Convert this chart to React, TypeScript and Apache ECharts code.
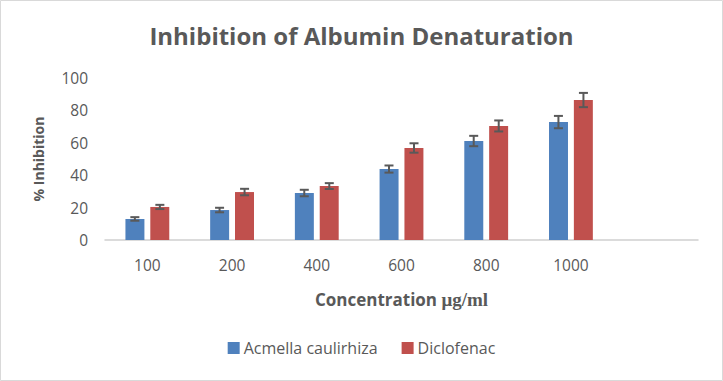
import React, { useEffect, useRef } from "react";
import * as echarts from "echarts";

const categories = ["100", "200", "400", "600", "800", "1000", ""];
const acmella = [13, 18.5, 29, 43.8, 61.1, 72.8];
const acmellaErr = [1.1, 1.4, 2, 2.2, 3.2, 3.8];
const diclofenac = [20.4, 29.6, 33.3, 56.8, 70.4, 86.4];
const diclofenacErr = [1.3, 2, 1.8, 2.9, 3.4, 4.4];
const yTicks = { min: 0, max: 100, interval: 20 };

const FONT = "Open Sans";
const TEXT = "#595959";
const OFFSET = 0.1476; // fraction of band width between category center and bar center

function errorSeries(values: number[], errs: number[], sign: number) {
  return {
    type: "custom",
    silent: true,
    z: 10,
    data: values.map((v, i) => [i, v, errs[i]]),
    renderItem: (params: any, api: any) => {
      const i = api.value(0);
      const v = api.value(1);
      const e = api.value(2);
      const band = api.size([1, 0])[0];
      const x = api.coord([i, v])[0] + sign * band * OFFSET;
      const yTop = api.coord([i, v + e])[1];
      const yBot = api.coord([i, v - e])[1];
      const half = 4.5;
      const style = { stroke: "#595959", lineWidth: 2 };
      return {
        type: "group",
        children: [
          { type: "line", shape: { x1: x, y1: yTop, x2: x, y2: yBot }, style },
          { type: "line", shape: { x1: x - half, y1: yTop, x2: x + half, y2: yTop }, style },
          { type: "line", shape: { x1: x - half, y1: yBot, x2: x + half, y2: yBot }, style },
        ],
      };
    },
  };
}

export default function App() {
  const ref = useRef<HTMLDivElement>(null);
  useEffect(() => {
    document.body.style.margin = "0";
    const chart = echarts.init(ref.current!, null, { renderer: "svg" });
    chart.setOption({
      animation: false,
      backgroundColor: "#ffffff",
      textStyle: { fontFamily: FONT },
      title: {
        text: "Inhibition of Albumin Denaturation",
        left: "center",
        top: 18,
        textStyle: { fontFamily: FONT, fontSize: 24, fontWeight: "bold", color: TEXT },
      },
      graphic: [
        {
          type: "rect",
          shape: { x: 0.5, y: 0.5, width: 722, height: 380 },
          style: { fill: "none", stroke: "#d9d9d9", lineWidth: 1 },
          silent: true,
        },
      ],
      legend: {
        data: ["Acmella caulirhiza", "Diclofenac"],
        bottom: 20,
        left: "center",
        itemWidth: 12,
        itemHeight: 12,
        itemGap: 24,
        icon: "rect",
        textStyle: { fontFamily: FONT, fontSize: 16, color: TEXT, padding: [0, 0, 0, -1] },
      },
      grid: { left: 105, right: 25, top: 78, bottom: 141, containLabel: false },
      xAxis: {
        type: "category",
        data: categories,
        axisTick: { show: false },
        axisLine: { lineStyle: { color: "#d0d0d0", width: 1.5 } },
        axisLabel: { fontFamily: FONT, fontSize: 15.5, color: TEXT, margin: 17 },
        name: "{a|Concentration }{b|μg/ml}",
        nameLocation: "middle",
        nameGap: 50,
        nameTextStyle: {
          rich: {
            a: { fontFamily: FONT, fontSize: 17, fontWeight: "bold", color: TEXT },
            b: { fontFamily: "Liberation Serif", fontSize: 19, fontWeight: "bold", color: TEXT },
          },
        },
      },
      yAxis: {
        type: "value",
        min: yTicks.min,
        max: yTicks.max,
        interval: yTicks.interval,
        splitLine: { show: false },
        axisLine: { show: false },
        axisTick: { show: false },
        axisLabel: { fontFamily: FONT, fontSize: 15.5, color: TEXT, margin: 17 },
        name: "% Inhibition",
        nameLocation: "middle",
        nameGap: 60,
        nameRotate: 90,
        nameTextStyle: { fontFamily: FONT, fontSize: 14, fontWeight: "bold", color: TEXT },
      },
      series: [
        {
          name: "Acmella caulirhiza",
          type: "bar",
          data: acmella,
          barWidth: "22.4%",
          barGap: "31%",
          itemStyle: { color: "#4F81BD" },
        },
        {
          name: "Diclofenac",
          type: "bar",
          data: diclofenac,
          barWidth: "22.4%",
          barGap: "31%",
          itemStyle: { color: "#C0504D" },
        },
        errorSeries(acmella, acmellaErr, -1),
        errorSeries(diclofenac, diclofenacErr, 1),
      ],
    });
    return () => chart.dispose();
  }, []);
  return <div ref={ref} style={{ width: 723, height: 381 }} />;
}
